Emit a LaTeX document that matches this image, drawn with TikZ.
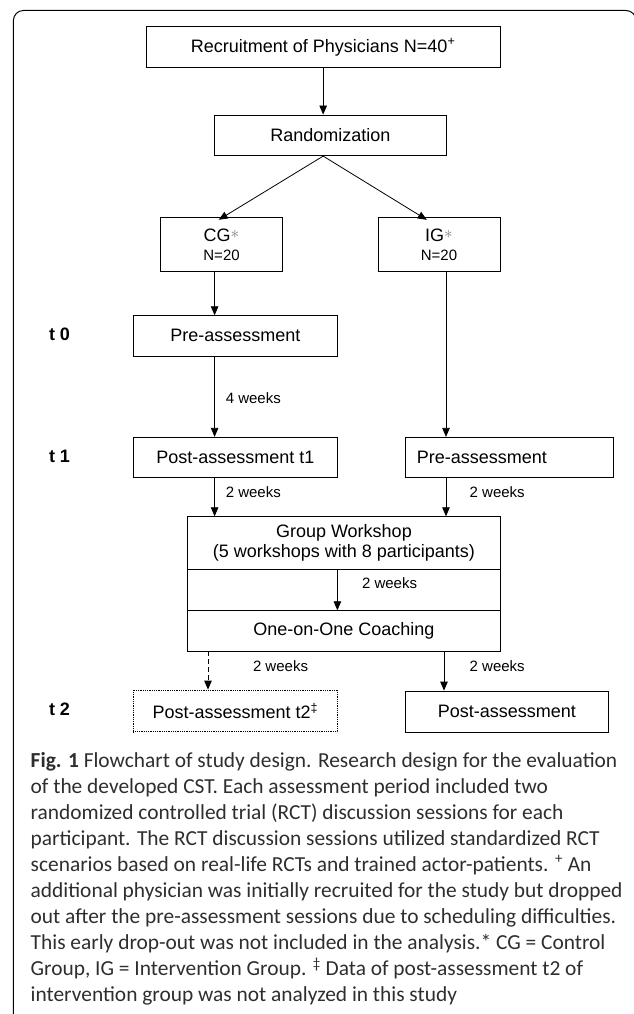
\documentclass[tikz,border=0pt]{standalone}
\usepackage{fontspec}
\setmainfont{Liberation Sans}
\newfontfamily\capfont{Carlito}
\usetikzlibrary{arrows.meta}
\newcommand{\grpstar}{{\color{black!50}\raisebox{3pt}{\fontsize{19}{19}\selectfont$\ast$}}}
\begin{document}
\begin{tikzpicture}[x=1pt,y=-1pt,
  box/.style={draw, line width=0.8pt, inner sep=0pt, align=center, font=\fontsize{18}{20}\selectfont},
  arr/.style={line width=0.8pt, -{Triangle[length=9pt,width=7.5pt]}},
  lab/.style={font=\fontsize{15}{17}\selectfont, anchor=west, inner sep=0pt},
  tlab/.style={font=\bfseries\fontsize{18}{20}\selectfont, anchor=west, inner sep=0pt},
  capline/.style={font=\capfont\fontsize{21.4}{26.1}\selectfont, anchor=base west, inner sep=0pt, text=black!82},
  frame/.style={line width=1pt, rounded corners=10pt}
]
\useasboundingbox (0,0) rectangle (634,1014);
\clip (0,0) rectangle (634,1014);
\draw[frame] (13.4,1040) -- (13.4,10.5) -- (636,10.5) -- (636,1040);

% columns
\coordinate (colA) at (214.6,0);
\coordinate (colB) at (446,0);
\coordinate (colC) at (337.4,0);
\coordinate (colD) at (208,0);
\coordinate (colE) at (444,0);
\coordinate (cgin) at (218.7,0);
\coordinate (igin) at (426.8,0);

% boxes
\node[box, minimum width=353.7pt, minimum height=41pt] (rec) at (323.15,47.2) {Recruitment of Physicians N=40\textsuperscript{+}};
\node[box, minimum width=231.4pt, minimum height=40.7pt] (rand) at (330.3,135.35) {Randomization};
\node[box, minimum width=121.9pt, minimum height=54pt] (cg) at (221.55,244.7) {CG\grpstar\\[-1pt]{\fontsize{15}{17}\selectfont N=20}};
\node[box, minimum width=122pt, minimum height=54pt] (ig) at (439,244.7) {IG\grpstar\\[-1pt]{\fontsize{15}{17}\selectfont N=20}};
\node[box, minimum width=204.1pt, minimum height=40.3pt] (pre0) at (235.35,335.85) {Pre-assessment};
\node[box, minimum width=204.1pt, minimum height=40.4pt] (post1) at (235.35,457.5) {Post-assessment t1};
\node[box, minimum width=208.5pt, minimum height=40.4pt] (pre1) at (509.55,457.5) {};
\node[font=\fontsize{18}{20}\selectfont, anchor=west, inner sep=0pt] (pre1t) at (416.7,457.5) {Pre-assessment};
\node[box, minimum width=312.2pt, minimum height=52.6pt] (ws) at (343.9,543) {Group Workshop\\(5 workshops with 8 participants)};
\node[box, minimum width=312.2pt, minimum height=41.4pt] (gap) at (343.9,590) {};
\node[box, minimum width=312.2pt, minimum height=40.3pt] (coach) at (343.9,630.85) {One-on-One Coaching};
\node[box, densely dotted, minimum width=204.1pt, minimum height=41.7pt] (post2) at (235.35,710.85) {Post-assessment t2\textsuperscript{‡}};
\node[box, minimum width=203.2pt, minimum height=41.3pt] (post2ig) at (506.9,711.65) {Post-assessment};

% time labels
\node[tlab] (t0) at (48.8,334.5) {t 0};
\node[tlab] (t1) at (48.8,456.5) {t 1};
\node[tlab] (t2) at (48.8,709.5) {t 2};

% connectors
\draw[arr] (rec.south) -- (rec.south |- rand.north);
\draw[arr] (rec.south |- rand.south) -- ([yshift=-2.5pt]cg.north -| cgin);
\draw[arr] (rec.south |- rand.south) -- ([yshift=-2.5pt]ig.north -| igin);
\draw[arr] (cg.south -| colA) -- (pre0.north -| colA);
\draw[arr] (ig.south -| colB) -- (pre1.north -| colB);
\draw[arr] (pre0.south -| colA) -- (post1.north -| colA);
\draw[arr] (post1.south -| colA) -- (ws.north -| colA);
\draw[arr] (pre1.south -| colB) -- (ws.north -| colB);
\draw[arr] (ws.south -| colC) -- (coach.north -| colC);
\draw[arr, dash pattern=on 5pt off 3pt] (coach.south -| colD) -- (post2.north -| colD);
\draw[arr] (coach.south -| colE) -- (post2ig.north -| colE);

% connector labels
\node[lab] (w4) at (225.6,398.3) {4 weeks};
\node[lab] (w2a) at (225.6,491.7) {2 weeks};
\node[lab] (w2b) at (469.5,491.7) {2 weeks};
\node[lab] (w2c) at (361.8,583.3) {2 weeks};
\node[lab] (w2d) at (252.8,666) {2 weeks};
\node[lab] (w2e) at (469.5,666) {2 weeks};

% caption
\node[capline] (c1) at (30.5,767) {\textbf{Fig. 1} Flowchart of study design. Research design for the evaluation};
\node[capline] (c2) at (30.5,793.1) {of the developed CST. Each assessment period included two};
\node[capline] (c3) at (30.5,819.2) {randomized controlled trial (RCT) discussion sessions for each};
\node[capline] (c4) at (30.5,845.3) {participant. The RCT discussion sessions utilized standardized RCT};
\node[capline] (c5) at (30.5,871.4) {scenarios based on real-life RCTs and trained actor-patients. \textsuperscript{+} An};
\node[capline] (c6) at (30.5,897.5) {additional physician was initially recruited for the study but dropped};
\node[capline] (c7) at (30.5,923.6) {out after the pre-assessment sessions due to scheduling difficulties.};
\node[capline] (c8) at (30.5,949.7) {This early drop-out was not included in the analysis.* CG = Control};
\node[capline] (c9) at (30.5,975.8) {Group, IG = Intervention Group. \textsuperscript{‡} Data of post-assessment t2 of};
\node[capline] (c10) at (30.5,1001.9) {intervention group was not analyzed in this study};
\end{tikzpicture}
\end{document}
